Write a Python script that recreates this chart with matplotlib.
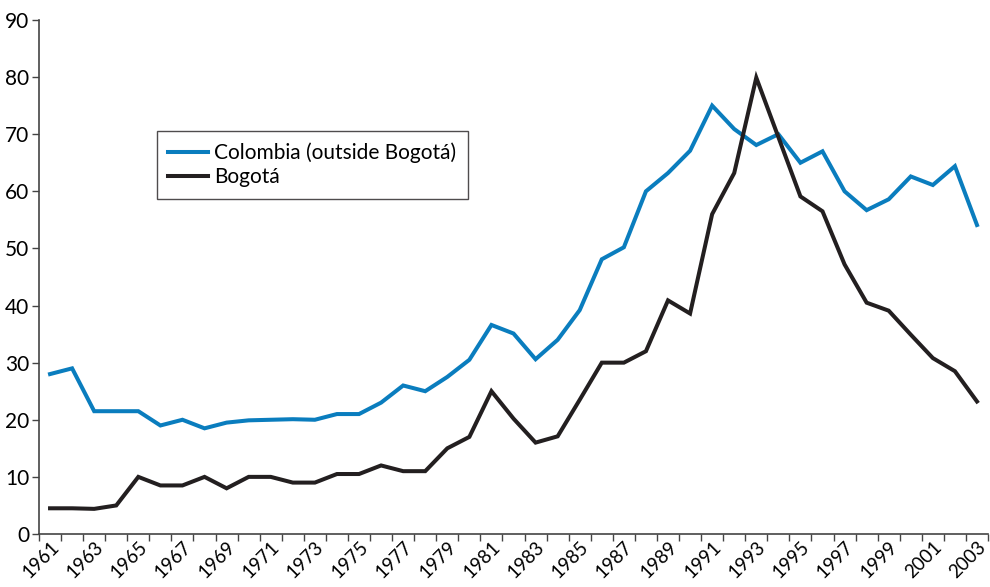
import matplotlib
matplotlib.use("Agg")
import matplotlib.pyplot as plt
from matplotlib.ticker import FixedLocator

plt.rcParams['font.family'] = ['Lato', 'DejaVu Sans']

# Data
years = list(range(1961, 2004))
colombia = [28, 29, 21.5, 21.5, 21.5, 19, 20, 18.5, 19.5, 19.9,
            20, 20.1, 20, 21, 21, 23, 26, 25, 27.5, 30.5,
            36.6, 35.1, 30.6, 34, 39.2, 48.1, 50.2, 60, 63.2, 67.1,
            75, 70.9, 68.1, 70, 65, 67, 60, 56.7, 58.6, 62.6,
            61.1, 64.4, 54.1]
bogota = [4.5, 4.5, 4.4, 5, 10, 8.5, 8.5, 10, 8, 10,
          10, 9, 9, 10.5, 10.5, 12, 11, 11, 15, 17,
          25, 20.2, 16, 17.1, 23.5, 30, 30, 32, 40.9, 38.6,
          56, 63.2, 79.9, 69.5, 59.1, 56.5, 47.2, 40.5, 39.1, 34.9,
          30.8, 28.5, 23.2]
year_labels = [str(y) for y in years[::2]]

blue = '#0A7DBE'
dark = '#231F20'

fig = plt.figure(figsize=(9.9, 5.87), dpi=100)
ax = fig.add_axes([0.0394, 0.0903, 0.9586, 0.8757])

x = list(range(len(years)))
ax.plot(x, colombia, color=blue, linewidth=2.9, label='Colombia (outside Bogotá)',
        solid_joinstyle='miter')
ax.plot(x, bogota, color=dark, linewidth=2.9, label='Bogotá', solid_joinstyle='miter')

ax.set_xlim(-0.5, len(years) - 0.5)
ax.set_ylim(0, 90)
ax.set_yticks(range(0, 91, 10))

# category boundaries get the tick marks, labels sit on every other year
ax.xaxis.set_major_locator(FixedLocator(x[::2]))
ax.set_xticklabels(year_labels, rotation=45, ha='right', rotation_mode='anchor')
ax.xaxis.set_minor_locator(FixedLocator([i - 0.5 for i in range(len(years) + 1)]))
ax.tick_params(axis='x', which='major', length=0, pad=3, labelsize=13.5)
ax.tick_params(axis='x', which='minor', length=5, width=1, color='#444444')
ax.tick_params(axis='y', length=5, width=1, color='#444444', labelsize=15, pad=2)

for side in ['top', 'right']:
    ax.spines[side].set_visible(False)
for side in ['left', 'bottom']:
    ax.spines[side].set_color('#444444')
    ax.spines[side].set_linewidth(1.2)

leg = ax.legend(loc='upper left', bbox_to_anchor=(0.124, 0.784), borderaxespad=0,
                fontsize=15, frameon=True, fancybox=False, handlelength=1.9,
                handletextpad=0.3, labelspacing=0.2, borderpad=0.55)
leg.get_frame().set_edgecolor(dark)
leg.get_frame().set_linewidth(1.0)

fig.savefig('out.png', dpi=100)
